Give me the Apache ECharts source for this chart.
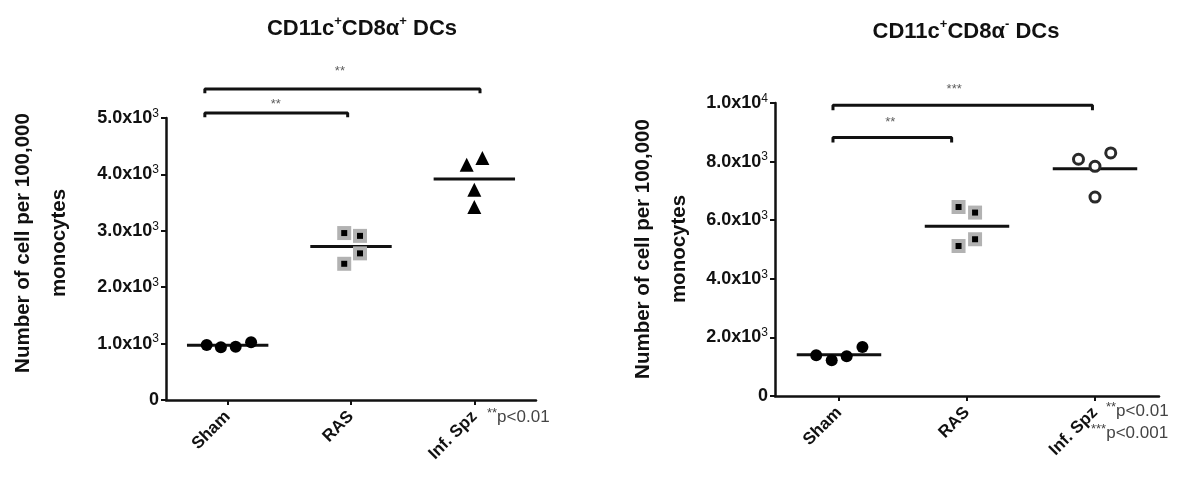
<!DOCTYPE html>
<html><head><meta charset="utf-8">
<script src="https://cdn.jsdelivr.net/npm/echarts@6/dist/echarts.min.js"></script>
<style>html,body{margin:0;padding:0;background:#fff}#c{width:1201px;height:477px}</style>
</head><body><div id="c"></div>
<script>
// ---------- data ----------
const categories = ['Sham', 'RAS', 'Inf. Spz'];

// Left panel: CD11c+CD8α+ DCs
const leftSham = [975, 935, 945, 1025];
const leftRAS = [2960, 2910, 2600, 2415];
const leftInf = [4170, 4290, 3730, 3420];
const leftMeans = [970, 2720, 3920];
const leftShamJitter = [-0.17, -0.055, 0.065, 0.19];
const leftRASJitter = [-0.055, 0.073, 0.073, -0.055];
const leftInfJitter = [-0.062, 0.065, 0, 0];
const leftYTicks = [0, 1000, 2000, 3000, 4000, 5000];
// significance brackets: [fromX, toX, y, endY, label, labelX, labelY]
const leftBrackets = [
  [-0.185, 0.973, 5090, 5015, '**', 0.39, 5237],
  [-0.185, 2.046, 5516, 5440, '**', 0.91, 5828]
];

// Right panel: CD11c+CD8α- DCs
const rightSham = [1390, 1220, 1355, 1670];
const rightRAS = [6450, 6260, 5350, 5120];
const rightInf = [8080, 7840, 8295, 6790];
const rightMeans = [1410, 5790, 7760];
const rightShamJitter = [-0.178, -0.057, 0.06, 0.183];
const rightRASJitter = [-0.066, 0.063, 0.063, -0.066];
const rightInfJitter = [-0.129, 0, 0.123, 0];
const rightYTicks = [0, 2000, 4000, 6000, 8000, 10000];
const rightBrackets = [
  [-0.047, 0.88, 8819, 8650, '**', 0.4, 9352],
  [-0.047, 1.98, 9922, 9750, '***', 0.9, 10457]
];

// ---------- helpers ----------
const INK = '#111';
const FONT = 'Liberation Sans, Arial, sans-serif';
function pts(ci, jit, vals) { return vals.map((v, i) => [ci + jit[i], v]); }
function yFmt(v) {
  if (v === 0) return '{b|0}';
  if (v >= 10000) return '{b|' + (v / 10000).toFixed(1) + 'x10}{s|4}';
  return '{b|' + (v / 1000).toFixed(1) + 'x10}{s|3}';
}
const richTick = {
  b: { fontSize: 18, fontWeight: 'bold', color: INK, fontFamily: FONT, lineHeight: 21 },
  s: { fontSize: 12, fontWeight: 'normal', color: INK, fontFamily: FONT, verticalAlign: 'top', lineHeight: 12 }
};

function panelSeries(g, sham, shamJ, ras, rasJ, inf, infJ, means, brackets, infOpen) {
  const s = [];
  means.forEach((m, i) => {
    s.push({ type: 'line', xAxisIndex: 2 * g + 1, yAxisIndex: g, data: [[i - 0.33, m], [i + 0.33, m]],
      symbol: 'none', lineStyle: { color: INK, width: 3 }, z: 2, silent: true, animation: false });
  });
  s.push({ type: 'scatter', xAxisIndex: 2 * g + 1, yAxisIndex: g, data: pts(0, shamJ, sham),
    symbol: 'circle', symbolSize: 12, itemStyle: { color: '#000', opacity: 1 }, z: 3, animation: false });
  s.push({ type: 'scatter', xAxisIndex: 2 * g + 1, yAxisIndex: g, data: pts(1, rasJ, ras),
    symbol: 'rect', symbolSize: 14, itemStyle: { color: '#b2b2b2', opacity: 1 }, z: 3, animation: false });
  s.push({ type: 'scatter', xAxisIndex: 2 * g + 1, yAxisIndex: g, data: pts(1, rasJ, ras),
    symbol: 'rect', symbolSize: 6, itemStyle: { color: '#000', opacity: 1 }, z: 4, animation: false });
  if (infOpen) {
    s.push({ type: 'scatter', xAxisIndex: 2 * g + 1, yAxisIndex: g, data: pts(2, infJ, inf),
      symbol: 'circle', symbolSize: 10, itemStyle: { color: '#fff', borderColor: '#2a2a2a', borderWidth: 3, opacity: 1 }, z: 4, animation: false });
  } else {
    s.push({ type: 'scatter', xAxisIndex: 2 * g + 1, yAxisIndex: g, data: pts(2, infJ, inf),
      symbol: 'triangle', symbolSize: 14, itemStyle: { color: '#000', opacity: 1 }, z: 4, animation: false });
  }
  brackets.forEach(b => {
    s.push({ type: 'line', xAxisIndex: 2 * g + 1, yAxisIndex: g, clip: false,
      data: [[b[0], b[3]], [b[0], b[2]], [b[1], b[2]], [b[1], b[3]]],
      symbol: 'none', lineStyle: { color: INK, width: 3 }, z: 2, animation: false });
    s.push({ type: 'scatter', xAxisIndex: 2 * g + 1, yAxisIndex: g, clip: false,
      data: [[b[5], b[6]]], symbolSize: 0,
      label: { show: true, position: 'inside', formatter: b[4], fontSize: 13, color: '#333', fontFamily: FONT },
      animation: false });
  });
  return s;
}

function catAxis(g) {
  return { type: 'category', gridIndex: g, data: categories, boundaryGap: true,
    axisLine: { show: true, onZero: false, lineStyle: { color: INK, width: 2.5 } },
    axisTick: { show: true, alignWithLabel: true, length: 5, lineStyle: { color: INK, width: 2 } },
    axisLabel: { rotate: 45, margin: 14, fontSize: 17, fontWeight: 'bold', color: INK, fontFamily: FONT },
    splitLine: { show: false } };
}
function valXAxis(g) {
  return { type: 'value', gridIndex: g, min: -0.5, max: 2.5, show: false, splitLine: { show: false } };
}
function yAxis(g, ticks) {
  return { type: 'value', gridIndex: g, min: ticks[0], max: ticks[ticks.length - 1], interval: ticks[1] - ticks[0],
    axisLine: { show: true, onZero: false, lineStyle: { color: INK, width: 2.5 } },
    axisTick: { show: true, length: 5, lineStyle: { color: INK, width: 2 } },
    axisLabel: { margin: 7, formatter: yFmt, rich: richTick },
    splitLine: { show: false } };
}

const titleRich = {
  a: { fontSize: 22, fontWeight: 'bold', color: INK, fontFamily: FONT, lineHeight: 28 },
  s: { fontSize: 13, fontWeight: 'bold', color: INK, fontFamily: FONT, verticalAlign: 'top', lineHeight: 13 }
};
const pRich = {
  s: { fontSize: 13, fill: '#444', fontFamily: FONT, verticalAlign: 'top', lineHeight: 12 },
  p: { fontSize: 17, fill: '#444', fontFamily: FONT, lineHeight: 20 }
};

const chart = echarts.init(document.getElementById('c'), null, { renderer: 'canvas' });
chart.setOption({
  animation: false,
  backgroundColor: '#fff',
  title: [
    { text: '{a|CD11c}{s|+}{a|CD8α}{s|+}{a| DCs}', left: 357, top: 10, textAlign: 'center', textStyle: { rich: titleRich } },
    { text: '{a|CD11c}{s|+}{a|CD8α}{s|-}{a| DCs}', left: 961, top: 13, textAlign: 'center', textStyle: { rich: titleRich } }
  ],
  grid: [
    { left: 166, top: 118, width: 370, height: 282, outerBoundsMode: 'none', containLabel: false },
    { left: 775, top: 103, width: 384, height: 293, outerBoundsMode: 'none', containLabel: false }
  ],
  xAxis: [catAxis(0), valXAxis(0), catAxis(1), valXAxis(1)],
  yAxis: [yAxis(0, leftYTicks), yAxis(1, rightYTicks)],
  series: [].concat(
    panelSeries(0, leftSham, leftShamJitter, leftRAS, leftRASJitter, leftInf, leftInfJitter, leftMeans, leftBrackets, false),
    panelSeries(1, rightSham, rightShamJitter, rightRAS, rightRASJitter, rightInf, rightInfJitter, rightMeans, rightBrackets, true)
  ),
  graphic: [
    { type: 'text', x: 41, y: 243, rotation: Math.PI / 2,
      style: { text: 'Number of cell per 100,000\nmonocytes', fontSize: 20.5, fontWeight: 'bold', fontFamily: FONT,
        fill: INK, align: 'center', verticalAlign: 'middle', textAlign: 'center', textVerticalAlign: 'middle', lineHeight: 36 } },
    { type: 'text', x: 661, y: 249, rotation: Math.PI / 2,
      style: { text: 'Number of cell per 100,000\nmonocytes', fontSize: 20.5, fontWeight: 'bold', fontFamily: FONT,
        fill: INK, align: 'center', verticalAlign: 'middle', textAlign: 'center', textVerticalAlign: 'middle', lineHeight: 36 } },
    { type: 'text', x: 487, y: 417,
      style: { text: '{s|**}{p|p<0.01}', verticalAlign: 'middle', textVerticalAlign: 'middle', rich: pRich } },
    { type: 'text', x: 1106, y: 411,
      style: { text: '{s|**}{p|p<0.01}', verticalAlign: 'middle', textVerticalAlign: 'middle', rich: pRich } },
    { type: 'text', x: 1091, y: 433,
      style: { text: '{s|***}{p|p<0.001}', verticalAlign: 'middle', textVerticalAlign: 'middle', rich: pRich } }
  ]
});
</script>
</body></html>
